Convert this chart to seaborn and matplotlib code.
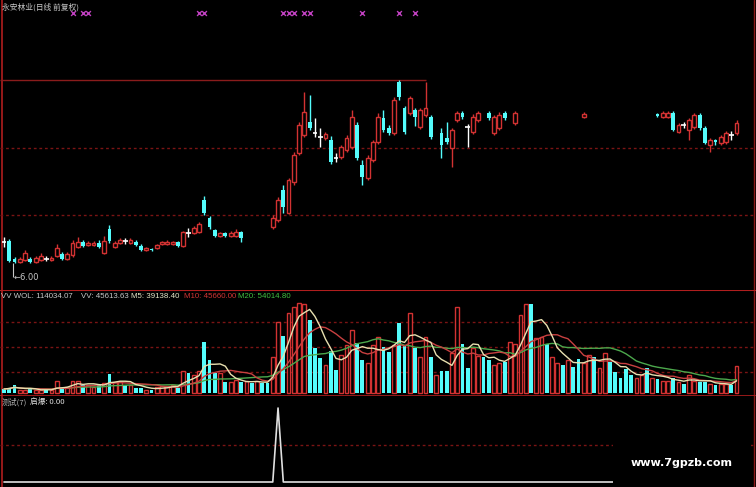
import numpy as np
import pandas as pd
import matplotlib.pyplot as plt
import seaborn as sns

sns.set_style("dark", {"axes.facecolor": "black", "figure.facecolor": "black"})
plt.rcParams['font.family'] = ['Noto Sans CJK SC', 'DejaVu Sans']

nan = np.nan

# daily candles (price, 前复权), nan where the chart shows no candle
opens = [6.525, 6.55, 6.10, 6.025, 6.075, 6.10, 6.025, 6.075, 6.10, 6.075,
         6.175, 6.225, 6.10, 6.20, 6.40, 6.525, 6.45, 6.45, 6.50, 6.25,
         6.85, 6.40, 6.50, 6.55, 6.50, 6.525, 6.425, 6.325, 6.35, 6.375,
         6.475, 6.475, 6.475, 6.525, 6.425, 6.75, 6.75, 6.775, 7.575, 7.125,
         6.825, 6.675, 6.75, 6.675, 6.675, 6.775, nan, nan, nan, nan,
         nan, 6.90, 7.075, 7.825, 7.25, 8.025, 8.75, 9.20, 9.525, 9.25,
         9.15, 9.125, 9.075, 8.625, 8.65, 8.825, 8.90, 9.45, 8.45, 8.125,
         8.575, 9.025, 9.625, 9.375, 9.25, 10.525, 9.875, 9.75, 9.825, 9.40,
         9.70, 9.65, nan, 9.25, 9.125, 8.875, 9.575, 9.75, 9.40, 9.275,
         9.575, nan, 9.75, 9.25, 9.375, 9.75, nan, 9.50, nan, nan,
         nan, nan, nan, nan, nan, nan, nan, nan, nan, nan,
         9.65, nan, nan, nan, nan, nan, nan, nan, nan, nan,
         nan, nan, nan, nan, 9.725, 9.65, 9.65, 9.75, 9.275, 9.45,
         9.325, 9.40, 9.70, 9.375, 8.95, 9.075, 9.00, 9.025, 9.20, 9.25]
closes = [6.525, 6.05, 6.025, 6.10, 6.25, 6.025, 6.125, 6.175, 6.10, 6.125,
          6.375, 6.10, 6.225, 6.50, 6.525, 6.425, 6.50, 6.50, 6.40, 6.55,
          6.55, 6.50, 6.575, 6.55, 6.575, 6.45, 6.325, 6.375, 6.325, 6.45,
          6.525, 6.525, 6.525, 6.425, 6.775, 6.75, 6.875, 6.975, 7.25, 6.90,
          6.675, 6.75, 6.675, 6.75, 6.775, 6.625, nan, nan, nan, nan,
          nan, 7.125, 7.575, 7.40, 8.075, 8.70, 9.45, 9.775, 9.375, 9.25,
          9.15, 9.225, 8.525, 8.625, 8.90, 9.125, 9.65, 8.625, 8.15, 8.625,
          9.025, 9.65, 9.325, 9.25, 10.075, 10.15, 9.275, 10.125, 9.65, 9.825,
          9.875, 9.15, nan, 8.95, 9.025, 9.325, 9.75, 9.65, 9.40, 9.65,
          9.75, nan, 9.625, 9.65, 9.70, 9.625, nan, 9.75, nan, nan,
          nan, nan, nan, nan, nan, nan, nan, nan, nan, nan,
          9.725, nan, nan, nan, nan, nan, nan, nan, nan, nan,
          nan, nan, nan, nan, 9.675, 9.75, 9.75, 9.325, 9.45, 9.45,
          9.575, 9.70, 9.375, 9.00, 9.075, 9.025, 9.15, 9.25, 9.20, 9.50]
highs = [6.65, 6.60, 6.15, 6.15, 6.325, 6.15, 6.175, 6.25, 6.175, 6.175,
         6.475, 6.275, 6.275, 6.575, 6.65, 6.575, 6.55, 6.55, 6.575, 6.675,
         6.95, 6.55, 6.625, 6.625, 6.625, 6.575, 6.475, 6.40, 6.375, 6.475,
         6.55, 6.575, 6.55, 6.55, 6.80, 6.875, 6.925, 7.025, 7.675, 7.175,
         6.85, 6.775, 6.775, 6.80, 6.85, 6.80, nan, nan, nan, nan,
         nan, 7.20, 7.65, 7.95, 8.125, 8.775, 9.525, 10.275, 10.20, 9.625,
         9.375, 9.275, 9.175, 8.75, 8.95, 9.20, 9.825, 9.525, 8.575, 8.70,
         9.075, 9.75, 9.825, 9.45, 10.15, 10.575, 9.925, 10.175, 9.875, 9.875,
         10.525, 9.70, nan, 9.375, 9.525, 9.375, 9.80, 9.80, 9.475, 9.725,
         9.80, nan, 9.80, 9.70, 9.775, 9.80, nan, 9.80, nan, nan,
         nan, nan, nan, nan, nan, nan, nan, nan, nan, nan,
         9.775, nan, nan, nan, nan, nan, nan, nan, nan, nan,
         nan, nan, nan, nan, 9.75, 9.80, 9.80, 9.80, 9.50, 9.525,
         9.625, 9.75, 9.75, 9.425, 9.125, 9.10, 9.20, 9.30, 9.30, 9.575]
lows = [6.40, 6.025, 6.00, 6.00, 6.05, 6.01, 6.01, 6.05, 6.05, 6.05,
        6.15, 6.075, 6.075, 6.15, 6.375, 6.40, 6.425, 6.425, 6.375, 6.225,
        6.50, 6.375, 6.475, 6.475, 6.475, 6.425, 6.30, 6.30, 6.30, 6.35,
        6.45, 6.45, 6.45, 6.40, 6.40, 6.65, 6.725, 6.75, 7.20, 6.85,
        6.65, 6.65, 6.65, 6.65, 6.65, 6.525, nan, nan, nan, nan,
        nan, 6.85, 7.025, 7.25, 7.225, 7.95, 8.70, 9.15, 9.325, 9.15,
        8.90, 9.075, 8.475, 8.525, 8.60, 8.775, 8.85, 8.575, 7.95, 8.075,
        8.525, 8.975, 9.275, 9.20, 9.20, 10.075, 9.225, 9.70, 9.425, 9.35,
        9.65, 9.10, nan, 8.625, 8.975, 8.40, 9.525, 9.60, 8.90, 9.225,
        9.525, nan, 9.575, 9.20, 9.325, 9.575, nan, 9.45, nan, nan,
        nan, nan, nan, nan, nan, nan, nan, nan, nan, nan,
        9.625, nan, nan, nan, nan, nan, nan, nan, nan, nan,
        nan, nan, nan, nan, 9.65, 9.625, 9.625, 9.30, 9.25, 9.375,
        9.075, 9.35, 9.325, 8.975, 8.775, 8.95, 8.95, 8.975, 9.075, 9.20]

volumes = [16900, 21100, 33800, 12700, 12700, 16900, 12700, 12700, 12700, 12700,
           50700, 21100, 25300, 50700, 50700, 33800, 33800, 25300, 33800, 42200,
           82300, 45200, 45200, 33800, 33800, 21100, 21100, 12700, 12700, 25300,
           29600, 29600, 33800, 21100, 92900, 83200, 76000, 92900, 215400, 139400,
           83200, 83200, 45200, 45200, 54900, 45200, 50700, 42200, 50700, 42200,
           42200, 152000, 299800, 240700, 337800, 363200, 380100, 375800, 308300, 190000,
           147800, 118200, 177400, 97100, 160500, 202700, 266000, 211200, 139400, 126700,
           202700, 236500, 194300, 173100, 202700, 295600, 202700, 337800, 190000, 152000,
           236500, 152000, 76000, 92900, 92900, 168900, 363200, 206900, 105600, 190000,
           156300, 152000, 139400, 118200, 126700, 130900, 215400, 206900, 329400, 375800,
           375800, 232300, 236500, 206900, 152000, 126700, 118200, 139400, 109800, 143600,
           126700, 160500, 152000, 105600, 168900, 130900, 88700, 63300, 101400, 76000,
           63300, 76000, 105600, 63300, 59100, 50700, 50700, 63300, 46500, 38000,
           76000, 50700, 46500, 46500, 38000, 33800, 38000, 38000, 33800, 114034]
# r = 阳 (up day), c = 阴 (down day)
vol_side = ("cccrrcrrcr" "rcrrrcrrcr" "crrcrccrcr" "rrrcrcrrcc"
            "crcrrcrcrc" "crrcrrrrcc" "crccrrrccr" "rrccrccrcr"
            "rcrccrrccr" "rccrrcrrrr" "crrcrrcrcc" "rrcrrccccc"
            "rrcrcrrcrc" "rrccrcrrcr")

signal_days = [13, 15, 16, 37, 38, 53, 54, 55, 57, 58, 68, 75, 78]
qibao_day = 52

vol_labels = [("VV WOL: 114034.07", "#c8c8c8", 1), ("VV: 45613.63", "#c8c8c8", 81),
              ("M5: 39138.40", "#e6e6c8", 131), ("M10: 45660.00", "#d03434", 184),
              ("M20: 54014.80", "#40c040", 238)]

RED = "#d23232"
CYAN = "#54fcfc"
GRID = "#7a1414"
n = len(volumes)

df = pd.DataFrame({"day": np.arange(n), "open": opens, "close": closes,
                   "high": highs, "low": lows, "vol": volumes,
                   "side": list(vol_side)})
df["m5"] = df.vol.rolling(5, min_periods=1).mean()
df["m10"] = df.vol.rolling(10, min_periods=1).mean()
df["m20"] = df.vol.rolling(20, min_periods=1).mean()
df["qibao"] = (df.day == qibao_day).astype(float)

W, H = 756, 487
fig = plt.figure(figsize=(W / 100, H / 100), dpi=100)
ax_p = fig.add_axes([0, 1 - 290 / H, 1, 290 / H])
ax_v = fig.add_axes([0, 1 - 395 / H, 1, 105 / H])
ax_i = fig.add_axes([0, 0, 1, 92 / H])

step = 5.27
xlim = (-4 / step, (W - 4) / step)
for ax in (ax_p, ax_v, ax_i):
    ax.set_facecolor("black")
    ax.set_xlim(*xlim)
    ax.set_xticks([])
    ax.set_yticks([])
    for s in ax.spines.values():
        s.set_visible(False)
    ax.axvline(-2 / step, color="#b01e1e", lw=1.2)
    ax.axvline((754 - 4) / step, color="#8a1818", lw=1)

# price panel
ax_p.set_ylim(6 + (263 - 290) / 40, 6 + 263 / 40)
ax_p.axhline(6 + (263 - 148) / 40, color=GRID, lw=1, ls=(0, (2, 2)))
ax_p.axhline(6 + (263 - 215) / 40, color=GRID, lw=1, ls=(0, (2, 2)))
ax_p.hlines(df.high.max(), xlim[0], df.high.idxmax() + 5, color="#8a1c1c", lw=1)

c = df.dropna(subset=["open"])
up = c[c.close > c.open]
dn = c[c.close < c.open]
dj = c[c.close == c.open]
bw = 0.72
ax_p.vlines(up.day, up.low, up.high, color=RED, lw=1, zorder=2)
ax_p.bar(up.day, up.close - up.open, bottom=up.open, width=bw,
         facecolor="black", edgecolor=RED, lw=1, zorder=3)
ax_p.vlines(dn.day, dn.low, dn.high, color=CYAN, lw=1, zorder=2)
ax_p.bar(dn.day, dn.open - dn.close, bottom=dn.close, width=bw,
         color=CYAN, lw=0, zorder=3)
ax_p.vlines(dj.day, dj.low, dj.high, color="white", lw=1, zorder=2)
ax_p.hlines(dj.close, dj.day - 0.45, dj.day + 0.45, color="white", lw=1.2, zorder=3)

sig = df[df.day.isin(signal_days)]
sns.scatterplot(x=sig.day, y=[6 + 250 / 40] * len(sig), marker="x", s=12,
                color="#c040c0", linewidth=1, ax=ax_p, legend=False)

lo = df.low.idxmin()
ax_p.vlines(lo - 0.2, df.low.min() - 0.35, df.low.min(), color="#c8c8c8", lw=0.8)
ax_p.text(lo - 0.2, df.low.min() - 0.35, "←%.2f" % df.low.min(), color="#c8c8c8",
          fontsize=6, va="center", ha="left", family=["DejaVu Sans"])

fig.text(2 / W, 1 - 7 / H, "永安林业(日线 前复权)", color="#c8c8c8", fontsize=5.6,
         va="center", ha="left")

# volume panel
k = 114034 / 27
ax_v.set_ylim(-2 * k, 103 * k)
for yy in (322, 347, 372):
    ax_v.axhline((393 - yy) * k, color=GRID, lw=1, ls=(0, (2, 2)))
ax_v.axhline(103 * k, color="#b01e1e", lw=1.5)
vu = df[df.side == "r"]
vd = df[df.side == "c"]
ax_v.bar(vu.day, vu.vol, width=bw, facecolor="black", edgecolor=RED, lw=1, zorder=2)
ax_v.bar(vd.day, vd.vol, width=bw, color=CYAN, lw=0, zorder=2)
sns.lineplot(data=df, x="day", y="m20", color="#4ca84c", lw=1, ax=ax_v, zorder=4)
sns.lineplot(data=df, x="day", y="m10", color="#c84040", lw=1, ax=ax_v, zorder=4)
sns.lineplot(data=df, x="day", y="m5", color="#e8e0b0", lw=1, ax=ax_v, zorder=5)
ax_v.set_xlabel("")
ax_v.set_ylabel("")
for txt, col, px in vol_labels:
    fig.text(px / W, 1 - 297 / H, txt, color=col, fontsize=5.7, va="center",
             ha="left", family=["Liberation Sans"])

# indicator panel
ax_i.set_ylim(-5 / 74, 87 / 74)
ax_i.axhline(1.17, color="#b01e1e", lw=1.2)
ax_i.axhline(0.5, color=GRID, lw=1, ls=(0, (2, 2)))
sns.lineplot(data=df, x="day", y="qibao", color="#e0e0e0", lw=1.2, ax=ax_i)
ax_i.set_xlabel("")
ax_i.set_ylabel("")
fig.text(2 / W, 1 - 402 / H, "测试(7)", color="#b4b4b4", fontsize=5.6, va="center", ha="left")
fig.text(30 / W, 1 - 402 / H, "启爆: 0.00", color="#e0e0e0", fontsize=5.6, va="center", ha="left")
fig.text(682 / W, 1 - 463 / H, "www.7gpzb.com", color="white", fontsize=8,
         fontweight="bold", va="center", ha="center", family=["DejaVu Sans"],
         bbox=dict(boxstyle="square,pad=1.6", facecolor="black", edgecolor="none"))

fig.savefig("out.png", dpi=100, facecolor="black")
